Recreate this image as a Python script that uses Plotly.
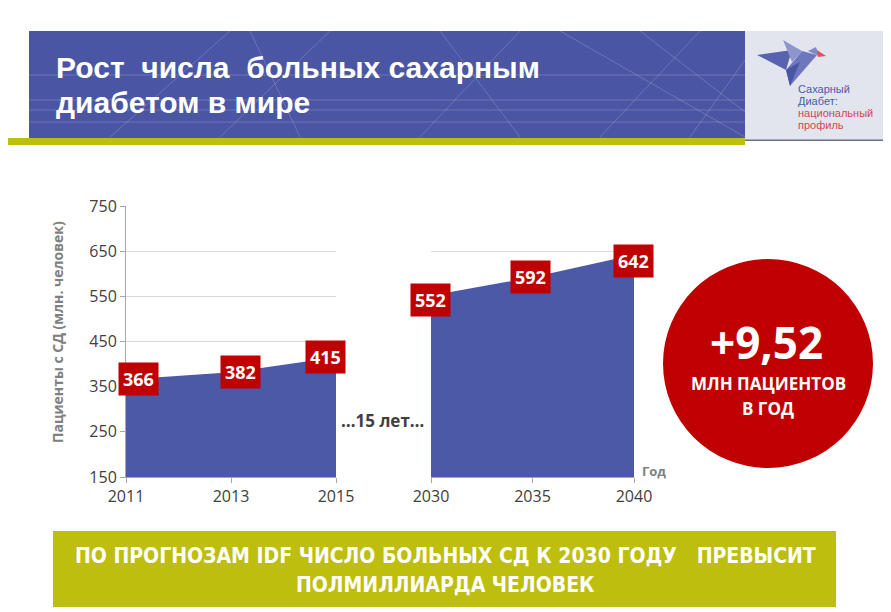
import plotly.graph_objects as go

# page body has an 8px margin: figure is drawn from screen (8, 8)
OFF = 8
W, H = 891 - OFF, 612 - OFF

# ---- data ----
years_a = ["2011", "2013", "2015"]
values_a = [366, 382, 415]
years_b = ["2030", "2035", "2040"]
values_b = [552, 592, 642]
y_ticks = [150, 250, 350, 450, 550, 650, 750]

BLUE = "#4B59A7"
RED = "#C00000"
OLIVE = "#BDBE0E"
FONT = "Open Sans, Liberation Sans, Arial, sans-serif"


def px(x):
    return (x - OFF) / W


def py(y):
    return 1 - (y - OFF) / H


fig = go.Figure()

fig.add_trace(go.Scatter(x=years_a, y=values_a, mode="lines", line=dict(width=0, color=BLUE),
                         fill="tozeroy", fillcolor=BLUE, xaxis="x", yaxis="y",
                         hoverinfo="x+y", showlegend=False))
fig.add_trace(go.Scatter(x=years_b, y=values_b, mode="lines", line=dict(width=0, color=BLUE),
                         fill="tozeroy", fillcolor=BLUE, xaxis="x2", yaxis="y2",
                         hoverinfo="x+y", showlegend=False))

ydom = [py(477), py(206)]
axis_font = dict(family=FONT, size=16, color="#404040")

fig.update_layout(
    width=W, height=H, margin=dict(l=0, r=0, t=0, b=0, autoexpand=False),
    paper_bgcolor="white", plot_bgcolor="white",
    showlegend=False,
    xaxis=dict(domain=[px(126), px(336)], type="category", range=[0, 2],
               showline=True, linecolor="#A6A6A6", linewidth=1,
               ticks="outside", ticklen=5, tickcolor="#A6A6A6",
               showgrid=False, tickfont=axis_font, anchor="y", fixedrange=True, automargin=False),
    yaxis=dict(domain=ydom, range=[150, 750], tickvals=y_ticks,
               showline=True, linecolor="#A6A6A6", linewidth=1,
               ticks="outside", ticklen=5, tickcolor="#A6A6A6",
               showgrid=True, gridcolor="#D9D9D9", gridwidth=1,
               zeroline=False, tickfont=axis_font, anchor="x", fixedrange=True, automargin=False),
    xaxis2=dict(domain=[px(431), px(634)], type="category", range=[0, 2],
                showline=True, linecolor="#A6A6A6", linewidth=1,
                ticks="outside", ticklen=5, tickcolor="#A6A6A6",
                showgrid=False, tickfont=axis_font, anchor="y2", fixedrange=True, automargin=False),
    yaxis2=dict(domain=ydom, range=[150, 750], tickvals=y_ticks,
                showline=False, showticklabels=False, ticks="",
                showgrid=True, gridcolor="#D9D9D9", gridwidth=1,
                zeroline=False, anchor="x2", fixedrange=True, automargin=False),
)

shapes = []
# header banner
shapes.append(dict(type="rect", xref="paper", yref="paper", x0=px(29), x1=px(745), y0=py(138), y1=py(31),
                   fillcolor="#4A56A4", line=dict(width=0), layer="below"))
# decorative lines in banner
deco = [((29, 75), (745, 75)), ((29, 100), (745, 100)), ((29, 110), (745, 110)), ((29, 122), (745, 122)),
        ((110, 137), (230, 31)), ((220, 137), (330, 31)), ((300, 137), (250, 31)),
        ((420, 137), (520, 31)), ((520, 137), (440, 31)), ((600, 137), (700, 31)),
        ((640, 31), (745, 112)), ((690, 137), (745, 60)), ((560, 31), (745, 137))]
for (xa, ya), (xb, yb) in deco:
    shapes.append(dict(type="line", xref="paper", yref="paper", x0=px(xa), y0=py(ya), x1=px(xb), y1=py(yb),
                       line=dict(color="rgba(255,255,255,0.18)", width=1), layer="below"))
# olive line under header
shapes.append(dict(type="rect", xref="paper", yref="paper", x0=px(OFF), x1=px(745), y0=py(145), y1=py(138),
                   fillcolor=OLIVE, line=dict(width=0)))
# logo panel
shapes.append(dict(type="rect", xref="paper", yref="paper", x0=px(745), x1=px(889), y0=py(140), y1=py(31),
                   fillcolor="#E3E5EE", line=dict(width=0)))
shapes.append(dict(type="rect", xref="paper", yref="paper", x0=px(745), x1=px(889), y0=py(141), y1=py(139.5),
                   fillcolor="#6B6F8A", line=dict(width=0)))


def poly(pts, color):
    d = "M " + " L ".join(f"{px(x):.5f},{py(y):.5f}" for x, y in pts) + " Z"
    return dict(type="path", xref="paper", yref="paper", path=d, fillcolor=color, line=dict(width=0))


# bird logo
shapes.append(poly([(757, 55), (792, 50), (786, 70)], "#5763AE"))
shapes.append(poly([(783, 40), (802, 51), (792, 62)], "#8C95CC"))
shapes.append(poly([(786, 70), (802, 51), (817, 55), (790, 86)], "#6D78BC"))
shapes.append(poly([(786, 70), (800, 62), (790, 86)], "#4A56A4"))
shapes.append(poly([(808, 51), (816, 47), (819, 56)], "#7F89C6"))
shapes.append(poly([(817, 50), (826, 56), (818, 57)], "#E0505A"))

# bottom banner
shapes.append(dict(type="rect", xref="paper", yref="paper", x0=px(53), x1=px(836), y0=py(607), y1=py(531),
                   fillcolor=OLIVE, line=dict(width=0)))
# red circle
shapes.append(dict(type="circle", xref="paper", yref="paper", x0=px(663), x1=px(873), y0=py(468), y1=py(259),
                   fillcolor=RED, line=dict(width=0)))
fig.update_layout(shapes=shapes)

ann = []


def text(x, y, t, size, color, bold=False, family=FONT, xanchor="center", **kw):
    if bold:
        t = f"<b>{t}</b>"
    ann.append(dict(x=px(x), y=py(y), xref="paper", yref="paper", text=t, showarrow=False,
                    xanchor=xanchor, yanchor="middle", font=dict(family=family, size=size, color=color), **kw))


# title
TITLE_FONT = "Liberation Sans, Arial, sans-serif"
text(54, 67, "Рост\u00a0 числа\u00a0 больных сахарным", 30, "white", True, TITLE_FONT, xanchor="left")
text(54, 103, "диабетом в мире", 30, "white", True, TITLE_FONT, xanchor="left")

# logo texts
text(796, 89, "Сахарный", 11, "#4A5AA8", False, TITLE_FONT, xanchor="left")
text(796, 101, "Диабет:", 11, "#4A5AA8", False, TITLE_FONT, xanchor="left")
text(796, 113, "национальный", 11, "#D8434F", False, TITLE_FONT, xanchor="left")
text(796, 125, "профиль", 11, "#D8434F", False, TITLE_FONT, xanchor="left")

# axis title and misc labels
text(57, 332, "Пациенты с СД (млн. человек)", 14, "#808080", True, textangle=-90)
text(382, 420, "…15 лет…", 17, "#404040", True)
text(654, 471, "Год", 13, "#808080", True)

# circle texts
text(766, 342, "+9,52", 44, "white", True)
text(768, 383, "МЛН ПАЦИЕНТОВ", 17, "white", True)
text(768, 408, "В ГОД", 17, "white", True)

# bottom banner text
BANNER_FONT = "DejaVu Sans Condensed, Liberation Sans Narrow, Liberation Sans, sans-serif"
text(445, 556, "ПО ПРОГНОЗАМ IDF ЧИСЛО БОЛЬНЫХ СД К 2030 ГОДУ\u00a0\u00a0 ПРЕВЫСИТ", 21, "white", True, BANNER_FONT)
text(445, 585, "ПОЛМИЛЛИАРДА ЧЕЛОВЕК", 21, "white", True, BANNER_FONT)

# data labels (category axes: annotation x is the category index)
shifts_a = [(12, 0), (9, 0), (-11, 0)]
for i, (yv, (dx, dy)) in enumerate(zip(values_a, shifts_a)):
    ann.append(dict(x=i, y=yv, xref="x", yref="y", text=f"<b>{yv}</b>", showarrow=False,
                    xshift=dx, yshift=dy, bgcolor=RED, borderpad=4,
                    font=dict(family=FONT, size=18, color="white")))
shifts_b = [(-1, -5), (-2, 0), (-1, -6)]
for i, (yv, (dx, dy)) in enumerate(zip(values_b, shifts_b)):
    ann.append(dict(x=i, y=yv, xref="x2", yref="y2", text=f"<b>{yv}</b>", showarrow=False,
                    xshift=dx, yshift=dy, bgcolor=RED, borderpad=4,
                    font=dict(family=FONT, size=18, color="white")))

fig.update_layout(annotations=ann)

fig.write_html("out.html")
